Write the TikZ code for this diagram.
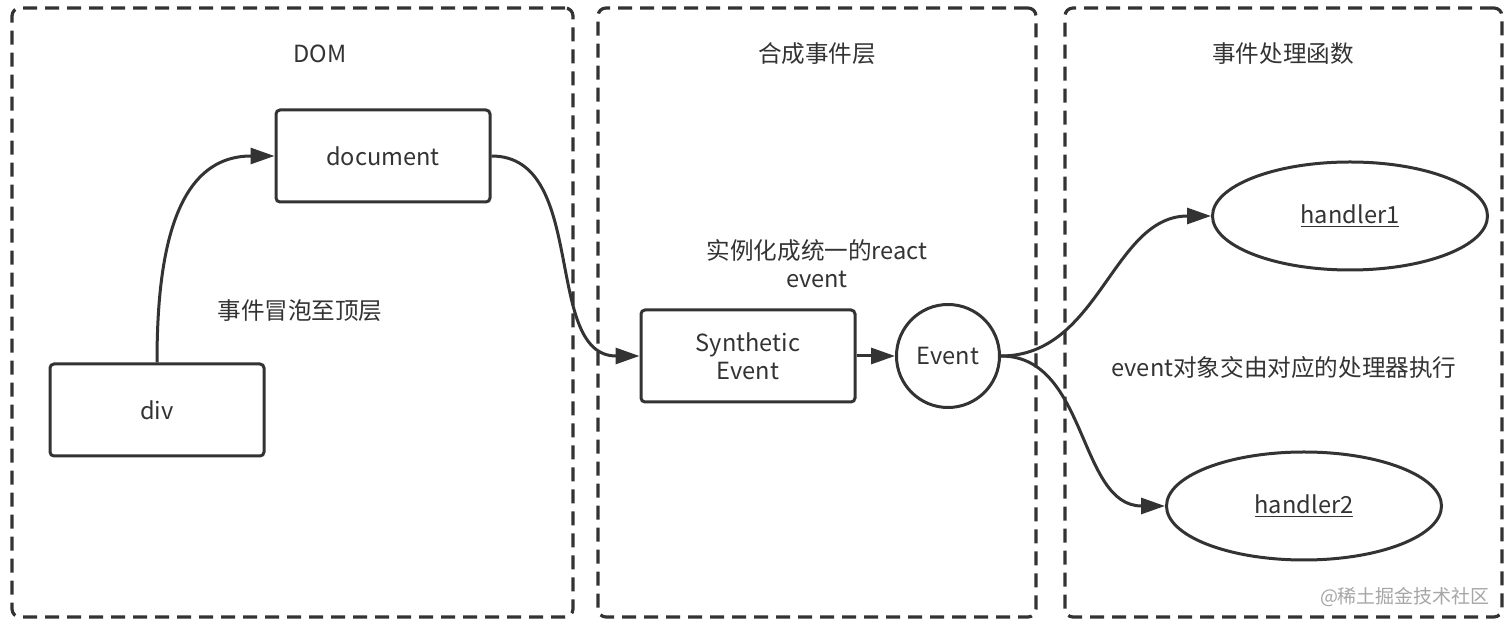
\documentclass[tikz,border=0pt]{standalone}
\usepackage{fontspec}
\setmainfont{Noto Sans CJK SC}
\usetikzlibrary{arrows.meta,shapes.geometric}
\definecolor{ink}{HTML}{333333}
\tikzset{
    layer/.style={draw=ink,line width=1.6pt,dash pattern=on 7pt off 4pt,rounded corners=4pt},
    box/.style={draw=ink,line width=1.5pt,rounded corners=2pt,minimum width=107pt,minimum height=46pt,align=center},
    conn/.style={draw=ink,line width=1.5pt,-{Triangle[length=12pt,width=8pt]}},
    lbl/.style={text=ink,align=center}
}
\begin{document}
\begin{tikzpicture}[x=0.5pt,y=-0.5pt,font=\fontsize{11.8}{14}\selectfont,text=ink]
    \useasboundingbox[fill=white] (0,0) rectangle (1512,624);

    % camadas
    \node[layer,minimum width=280.5pt,minimum height=304.5pt] (domlayer) at (292.5,312.5) {};
    \node[layer,minimum width=219pt,minimum height=304.5pt] (synlayer) at (817,312.5) {};
    \node[layer,minimum width=218.5pt,minimum height=304.5pt] (hdllayer) at (1283.5,312.5) {};

    \node[lbl] (domtitle) at (320,54) {DOM};
    \node[lbl] (syntitle) at (817,54) {合成事件层};
    \node[lbl] (hdltitle) at (1283,54) {事件处理函数};

    % DOM
    \node[box] (document) at (383,156) {document};
    \node[box] (div) at (157,410) {div};
    \node[lbl] (bubble) at (300,311) {事件冒泡至顶层};

    % sintetico
    \node[box] (synthetic) at (748,356) {Synthetic\\Event};
    \node[draw=ink,line width=1.5pt,circle,minimum size=51.5pt,inner sep=0pt] (event) at (948,356) {Event};
    \node[lbl] (instance) at (817,264) {实例化成统一的react\\event};

    % handlers
    \node[draw=ink,line width=1.5pt,ellipse,minimum width=137.5pt,minimum height=54pt] (handler1) at (1350,216) {\underline{handler1}};
    \node[draw=ink,line width=1.5pt,ellipse,minimum width=137.5pt,minimum height=54pt] (handler2) at (1304,506) {\underline{handler2}};
    \node[lbl] (dispatch) at (1284,368) {event对象交由对应的处理器执行};

    \node[text=black!35,font=\fontsize{9.5}{11}\selectfont] (mark) at (1405,597) {@稀土掘金技术社区};

    % setas
    \draw[conn] (div.north) to[out=90,in=180,looseness=1.1] (document.west);
    \draw[conn] (document.east) to[out=0,in=180,looseness=1.0] (synthetic.west);
    \draw[conn] (synthetic.east) -- (event.west);
    \draw[conn] (event.east) to[out=0,in=180] (handler1.west);
    \draw[conn] (event.east) to[out=0,in=180] (handler2.west);

\end{tikzpicture}
\end{document}
